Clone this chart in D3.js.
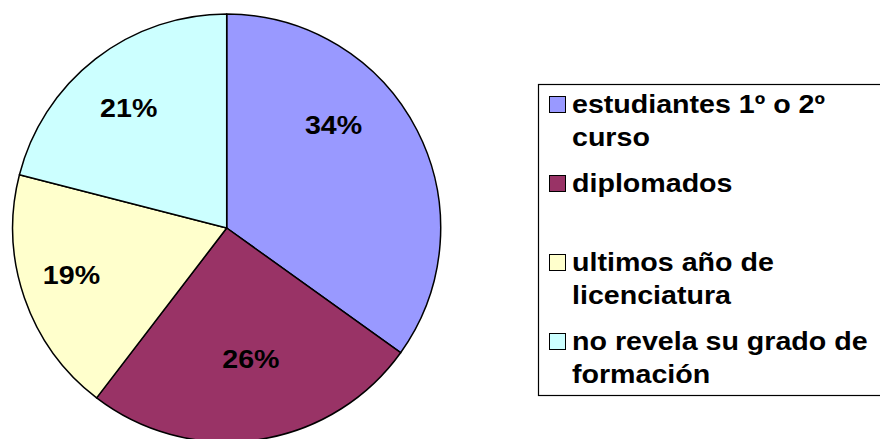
<!DOCTYPE html>
<html>
<head>
<meta charset="utf-8">
<script src="https://cdn.jsdelivr.net/npm/d3@7"></script>
<style>
  html, body { margin: 0; padding: 0; background: #ffffff; }
  svg { display: block; }
</style>
</head>
<body>
<svg id="chart" width="880" height="439"></svg>
<script>
// ---- data ----
const categories = [
  "estudiantes 1º o 2º curso",
  "diplomados",
  "ultimos año de licenciatura",
  "no revela su grado de formación"
];
const values = [34.9, 25.5, 18.6, 21.0];
const valueLabels = ["34%", "26%", "19%", "21%"];
const legendLines = [
  ["estudiantes 1º o 2º", "curso"],
  ["diplomados"],
  ["ultimos año de", "licenciatura"],
  ["no revela su grado de", "formación"]
];
const colors = ["#9999FF", "#993366", "#FFFFCC", "#CCFFFF"];

// ---- layout ----
const cx = 226.7, cy = 228, R = 214;
const labelRadius = [149, 133, 162, 155];
const labelNudgeDeg = [-17, -2, 2.5, -1.4];
const fontFamily = "'Liberation Sans', Arial, sans-serif";
const fontSize = 26, stretchX = 1.1;

const svg = d3.select("#chart");

const pie = d3.pie().sort(null).value(d => d)
  .startAngle(0).endAngle(2 * Math.PI);
const arcs = pie(values);
const arc = d3.arc().innerRadius(0).outerRadius(R);

const g = svg.append("g").attr("transform", `translate(${cx},${cy})`);
g.selectAll("path.slice").data(arcs).join("path")
  .attr("class", "slice")
  .attr("d", arc)
  .attr("fill", (d, i) => colors[i])
  .attr("stroke", "#000")
  .attr("stroke-width", 1.5)
  .attr("stroke-linejoin", "round");

g.selectAll("text.lbl").data(arcs).join("text")
  .attr("class", "lbl")
  .attr("transform", (d, i) => {
    const a = (d.startAngle + d.endAngle) / 2 + labelNudgeDeg[i] * Math.PI / 180;
    const x = Math.sin(a) * labelRadius[i];
    const y = -Math.cos(a) * labelRadius[i];
    return `translate(${x},${y}) scale(${stretchX},1)`;
  })
  .attr("text-anchor", "middle")
  .attr("dy", "0.36em")
  .attr("font-family", fontFamily)
  .attr("font-weight", "bold")
  .attr("font-size", fontSize)
  .attr("fill", "#000")
  .text((d, i) => valueLabels[i]);

// ---- legend ----
const legX = 538, legY = 84, legW = 360, legH = 311;
svg.append("rect")
  .attr("x", legX + 0.5).attr("y", legY + 0.5)
  .attr("width", legW).attr("height", legH)
  .attr("fill", "#fff").attr("stroke", "#000").attr("stroke-width", 1.2);

const entryY = d3.scaleLinear().domain([0, 1]).range([113, 192]);
const lineH = 33;
const leg = svg.append("g");
const items = leg.selectAll("g.item").data(categories).join("g")
  .attr("class", "item")
  .attr("transform", (d, i) => `translate(0,${entryY(i)})`);
items.append("rect")
  .attr("x", 549.5).attr("y", -16.5)
  .attr("width", 16).attr("height", 16)
  .attr("fill", (d, i) => colors[i])
  .attr("stroke", "#000").attr("stroke-width", 1);
items.each(function(d, i) {
  const t = d3.select(this).append("text")
    .attr("transform", `translate(572,0) scale(${stretchX},1)`)
    .attr("font-family", fontFamily)
    .attr("font-weight", "bold")
    .attr("font-size", fontSize)
    .attr("fill", "#000");
  legendLines[i].forEach((ln, k) => {
    t.append("tspan").attr("x", 0).attr("y", k * lineH)
      .text(ln);
  });
});
</script>
</body>
</html>
